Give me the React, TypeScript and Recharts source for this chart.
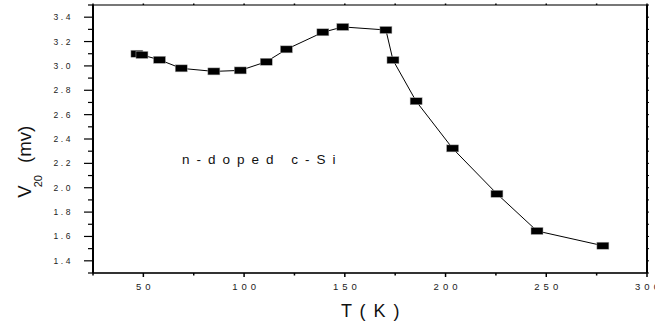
import React from 'react';
import { LineChart, Line, XAxis, YAxis } from 'recharts';

const temperatures = [46.8, 49.3, 58.0, 68.8, 85.0, 98.1, 111.0, 121.0, 139.1, 149.0, 170.4, 173.9, 185.4, 203.5, 225.5, 245.4, 278.1];
const voltages = [3.10, 3.09, 3.05, 2.98, 2.955, 2.963, 3.034, 3.136, 3.276, 3.32, 3.295, 3.048, 2.71, 2.323, 1.95, 1.645, 1.524];

const xAllTicks = [25, 50, 75, 100, 125, 150, 175, 200, 225, 250, 275, 300];
const xMajorTicks = [50, 100, 150, 200, 250, 300];
const yAllTicks = [1.3, 1.4, 1.5, 1.6, 1.7, 1.8, 1.9, 2.0, 2.1, 2.2, 2.3, 2.4, 2.5, 2.6, 2.7, 2.8, 2.9, 3.0, 3.1, 3.2, 3.3, 3.4, 3.5];
const yMajorTicks = [1.4, 1.6, 1.8, 2.0, 2.2, 2.4, 2.6, 2.8, 3.0, 3.2, 3.4];

const xDomain: [number, number] = [25, 300];
const yDomain: [number, number] = [1.3, 3.5];

const annotationText = 'n-doped c-Si';
const xLabel = 'T ( K )';

const data = temperatures.map((t, i) => ({ t, v: voltages[i] }));

const FONT = '"Liberation Sans", Arial, Helvetica, sans-serif';

const isMajor = (list: number[], v: number) => list.some((m) => Math.abs(m - v) < 1e-6);

const BottomTick = (props: any) => {
  const { x, y, payload } = props;
  const major = isMajor(xMajorTicks, payload.value);
  return (
    <g>
      <line x1={x} x2={x} y1={y} y2={y + (major ? 4 : 2.5)} stroke="#000" strokeWidth={1.5} />
      {major && (
        <text x={x + 2} y={y + 17} textAnchor="middle" fontSize={9.5} letterSpacing={4} fontFamily={FONT} fill="#222">
          {String(payload.value)}
        </text>
      )}
    </g>
  );
};

const TopTick = (props: any) => {
  const { x, y } = props;
  return <line x1={x} x2={x} y1={y} y2={y - 1.5} stroke="#000" strokeWidth={1.5} />;
};

const LeftTick = (props: any) => {
  const { x, y, payload } = props;
  const major = isMajor(yMajorTicks, payload.value);
  return (
    <g>
      <line x1={x - (major ? 9 : 5)} x2={x} y1={y} y2={y} stroke="#000" strokeWidth={1.2} />
      {major && (
        <text x={x - 20} y={y + 3} textAnchor="end" fontSize={8.5} letterSpacing={2.6} fontFamily={FONT} fill="#222">
          {payload.value.toFixed(1)}
        </text>
      )}
    </g>
  );
};

const RightTick = (props: any) => {
  const { x, y } = props;
  return <line x1={x} x2={x + 2} y1={y} y2={y} stroke="#000" strokeWidth={1} />;
};

const RectDot = (props: any) => {
  const { cx, cy, index } = props;
  if (cx == null || cy == null) return <g key={`d${index}`} />;
  return <rect key={`d${index}`} x={cx - 6} y={cy - 3.5} width={12} height={7} fill="#000" stroke="#aaa" strokeWidth={0.5} />;
};

export default function App() {
  return (
    <div style={{ position: 'absolute', left: 0, top: 0, width: 655, height: 326, background: '#fff' }}>
      <LineChart width={655} height={326} data={data} margin={{ top: 0, right: 0, left: 0, bottom: 0 }}>
        <XAxis
          dataKey="t"
          type="number"
          domain={xDomain}
          allowDataOverflow
          ticks={xAllTicks}
          interval={0}
          height={53}
          tickSize={0}
          tickMargin={0}
          tickLine={false}
          tick={<BottomTick />}
          axisLine={{ stroke: '#333', strokeWidth: 2 }}
        />
        <XAxis
          xAxisId="top"
          orientation="top"
          dataKey="t"
          type="number"
          domain={xDomain}
          allowDataOverflow
          ticks={xAllTicks}
          interval={0}
          height={5}
          tickSize={0}
          tickMargin={0}
          tickLine={false}
          tick={<TopTick />}
          axisLine={{ stroke: '#777', strokeWidth: 2 }}
        />
        <YAxis
          dataKey="v"
          type="number"
          domain={yDomain}
          allowDataOverflow
          ticks={yAllTicks}
          interval={0}
          width={93}
          tickSize={0}
          tickMargin={0}
          tickLine={false}
          tick={<LeftTick />}
          axisLine={{ stroke: '#000', strokeWidth: 2 }}
        />
        <YAxis
          yAxisId="right"
          orientation="right"
          dataKey="v"
          type="number"
          domain={yDomain}
          allowDataOverflow
          ticks={yAllTicks}
          interval={0}
          width={8}
          tickSize={0}
          tickMargin={0}
          tickLine={false}
          tick={<RightTick />}
          axisLine={{ stroke: '#000', strokeWidth: 2 }}
        />
        <Line
          dataKey="v"
          type="linear"
          stroke="#000"
          strokeWidth={1}
          dot={RectDot}
          activeDot={false}
          isAnimationActive={false}
        />
      </LineChart>
      <svg width={655} height={326} style={{ position: 'absolute', left: 0, top: 0, pointerEvents: 'none' }}>
        <text x={182} y={164} fontSize={13.5} letterSpacing={7} fontFamily={FONT} fill="#111">
          {annotationText}
        </text>
        <text x={371} y={317} textAnchor="middle" fontSize={18} letterSpacing={1.5} fontFamily={FONT} fill="#111">
          {xLabel}
        </text>
        <text transform="translate(31,197.7) rotate(-90)" fontSize={18.6} fontFamily={FONT} fill="#111">
          <tspan>V</tspan>
          <tspan fontSize={11} dx={-2} dy={11}>20</tspan>
          <tspan dx={12} dy={-11}>(mv)</tspan>
        </text>
      </svg>
    </div>
  );
}
